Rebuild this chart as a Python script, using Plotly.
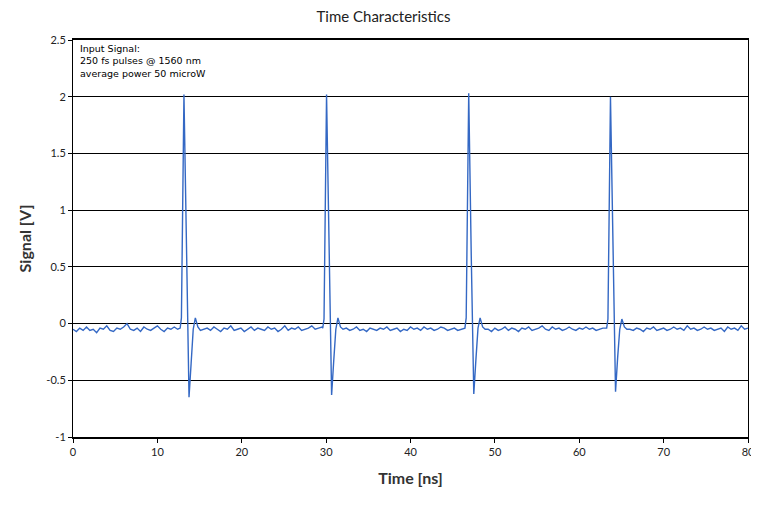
import numpy as np
import plotly.graph_objects as go

# ---- data ----
x_ticks = [0, 10, 20, 30, 40, 50, 60, 70, 80]
y_ticks = [-1, -0.5, 0, 0.5, 1, 1.5, 2, 2.5]
y_tick_labels = ["-1", "-0.5", "0", "0.5", "1", "1.5", "2", "2.5"]

step_ns = 0.4
base1_start = 0.0
base1_v = [-0.05, -0.07, -0.04, -0.06, -0.03, -0.06, -0.05, -0.08, -0.04, -0.05,
           -0.02, -0.06, -0.07, -0.04, -0.05, -0.03, 0.00, -0.05, -0.06, -0.04,
           -0.07, -0.03, -0.05, -0.06, -0.04, -0.02, -0.05, -0.07, -0.04, -0.05,
           -0.03, -0.05]
pulse1_t = [12.7, 12.85, 13.15, 13.45, 13.75, 14.0, 14.25, 14.5, 14.8, 15.1]
pulse1_v = [-0.04, 0.05, 2.02, 0.6, -0.65, -0.35, -0.05, 0.05, -0.03, -0.06]

base2_start = 15.5
base2_v = [-0.05, -0.04, -0.06, -0.03, -0.05, -0.07, -0.04, -0.05, -0.02, -0.06,
           -0.05, -0.04, -0.07, -0.05, -0.03, -0.06, -0.04, -0.05, -0.06, -0.03,
           -0.05, -0.04, -0.07, -0.05, -0.02, -0.06, -0.04, -0.05, -0.03, -0.06,
           -0.05, -0.04, -0.02, -0.05, -0.04, -0.03]
pulse2_t = [29.6, 29.75, 30.05, 30.35, 30.65, 30.9, 31.15, 31.4, 31.7, 32.0]
pulse2_v = [-0.04, 0.04, 2.02, 0.6, -0.63, -0.33, -0.05, 0.05, -0.03, -0.05]

base3_start = 32.4
base3_v = [-0.04, -0.06, -0.05, -0.03, -0.06, -0.05, -0.07, -0.04, -0.05, -0.06,
           -0.04, -0.05, -0.03, -0.06, -0.05, -0.04, -0.07, -0.05, -0.06, -0.03,
           -0.05, -0.04, -0.06, -0.03, -0.05, -0.04, -0.06, -0.05, -0.03, -0.04,
           -0.06, -0.05, -0.04, -0.06, -0.05]
pulse3_t = [46.45, 46.6, 46.9, 47.2, 47.5, 47.75, 48.0, 48.25, 48.55, 48.85]
pulse3_v = [-0.04, 0.05, 2.03, 0.6, -0.62, -0.32, -0.04, 0.05, -0.03, -0.05]

base4_start = 49.2
base4_v = [-0.05, -0.07, -0.04, -0.06, -0.05, -0.03, -0.06, -0.04, -0.05, -0.07,
           -0.04, -0.05, -0.03, -0.06, -0.05, -0.04, -0.02, -0.05, -0.06, -0.03,
           -0.05, -0.04, -0.06, -0.05, -0.03, -0.05, -0.06, -0.04, -0.05, -0.03,
           -0.05, -0.04, -0.06, -0.05, -0.04]
pulse4_t = [63.25, 63.4, 63.7, 64.0, 64.3, 64.55, 64.8, 65.05, 65.35, 65.65]
pulse4_v = [-0.04, 0.04, 2.00, 0.6, -0.60, -0.30, -0.05, 0.04, -0.03, -0.05]

base5_start = 66.0
base5_v = [-0.05, -0.06, -0.04, -0.05, -0.07, -0.04, -0.05, -0.03, -0.06, -0.05,
           -0.04, -0.06, -0.05, -0.03, -0.05, -0.04, -0.06, -0.02, -0.05, -0.04,
           -0.06, -0.05, -0.03, -0.05, -0.04, -0.06, -0.05, -0.04, -0.07, -0.03,
           -0.05, -0.04, -0.06, -0.02, -0.05, -0.04]


def base_times(start, vals):
    return list(np.round(start + step_ns * np.arange(len(vals)), 3))


time_ns = (base_times(base1_start, base1_v) + pulse1_t +
           base_times(base2_start, base2_v) + pulse2_t +
           base_times(base3_start, base3_v) + pulse3_t +
           base_times(base4_start, base4_v) + pulse4_t +
           base_times(base5_start, base5_v))
signal_v = (base1_v + pulse1_v + base2_v + pulse2_v + base3_v + pulse3_v +
            base4_v + pulse4_v + base5_v)

fig = go.Figure()
fig.add_trace(go.Scatter(
    x=time_ns, y=signal_v, mode="lines",
    line=dict(color="#3468c4", width=1.4),
    showlegend=False, hoverinfo="skip",
))

fig.update_layout(
    width=751, height=492,
    margin=dict(l=65, r=11, t=32, b=63, autoexpand=False),
    paper_bgcolor="white", plot_bgcolor="white",
    title=dict(text="Time Characteristics", x=0.5, xanchor="center",
               y=0.992, yanchor="top",
               font=dict(family="Lato", size=15, color="#222")),
    font=dict(family="Lato", size=11, color="#222"),
)
fig.update_xaxes(
    range=[0, 80], tickvals=x_ticks, ticks="outside", ticklen=4,
    tickcolor="black", showline=True, linecolor="black", linewidth=2,
    mirror=True, showgrid=False, zeroline=False, automargin=False,
    ticklabeloverflow="allow",
    tickfont=dict(family="Lato", size=11, color="#222"),
    title=dict(text="<b>Time [ns]</b>", standoff=16,
               font=dict(family="Lato", size=16, color="#333")),
)
fig.update_yaxes(
    range=[-1, 2.5], tickvals=y_ticks, ticktext=y_tick_labels,
    ticks="outside", ticklen=4, tickcolor="black", automargin=False,
    showline=True, linecolor="black", linewidth=1, mirror=True,
    showgrid=True, gridcolor="black", gridwidth=1,
    zeroline=True, zerolinecolor="black", zerolinewidth=1,
    tickfont=dict(family="Lato", size=11, color="#222"),
    title=dict(text="<b>Signal [V]</b>", standoff=10,
               font=dict(family="Lato", size=16, color="#333")),
)
fig.add_annotation(
    xref="paper", yref="paper", x=0.008, y=0.997, xanchor="left", yanchor="top",
    align="left", showarrow=False,
    text="Input Signal:<br>250 fs pulses @ 1560 nm<br>average power 50 microW",
    font=dict(family="DejaVu Sans", size=9.5, color="black"),
)

fig.write_html("out.html")
